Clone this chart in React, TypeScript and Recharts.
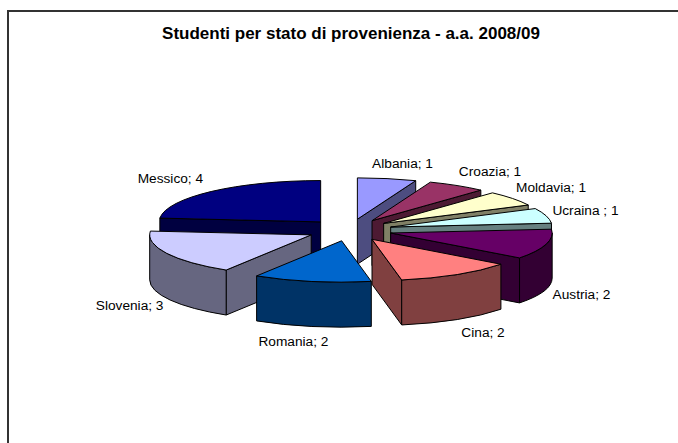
import { PieChart, Pie } from "recharts";

const categories = ["Albania", "Croazia", "Moldavia", "Ucraina ", "Austria", "Cina", "Romania", "Slovenia", "Messico"];
const students = [1, 1, 1, 1, 2, 2, 2, 3, 4];
const sliceColors = ["#9999FF", "#993366", "#FFFFCC", "#CCFFFF", "#660066", "#FF8080", "#0066CC", "#CCCCFF", "#000080"];

// back to front, the order Excel paints a 3D pie in
const paintOrder = ["Albania", "Messico", "Croazia", "Moldavia", "Ucraina ", "Austria", "Slovenia", "Cina", "Romania"];

// label offset from the slice's outer edge
const labelNudge: Record<string, [number, number]> = {
  Albania: [15.5, -15],
  Croazia: [33, -14],
  Moldavia: [38.5, -11],
  "Ucraina ": [39.5, -5],
  Austria: [35.5, 50],
  Cina: [26, 58],
  Romania: [-18.5, 60],
  Slovenia: [-37, 52],
  Messico: [-41.5, -13],
};

const tableData = categories.map((name, i) => ({ name, value: students[i], fill: sliceColors[i] }));

const RADIUS = 161.5;
const TILT = 0.256; // vertical squash of the pie
const DEPTH = 45;
const EXPLODE = 0.265;
const FONT = "'Liberation Sans', Arial, sans-serif";

const darken = (hex: string) => {
  const n = parseInt(hex.slice(1), 16);
  const half = (v: number) => Math.round(v / 2).toString(16).padStart(2, "0");
  return `#${half((n >> 16) & 255)}${half((n >> 8) & 255)}${half(n & 255)}`;
};

// theta is clockwise from 12 o'clock, in degrees
const rim = (cx: number, cy: number, r: number, theta: number) => {
  const t = (theta * Math.PI) / 180;
  return { x: cx + r * Math.sin(t), y: cy - r * TILT * Math.cos(t) };
};

const apexOf = (cx: number, cy: number, r: number, mid: number) => rim(cx, cy, r * EXPLODE, mid);

function Slice3D(props: any) {
  const { cx, cy, outerRadius: r, startAngle, endAngle, fill } = props;
  const a = 90 - startAngle;
  const b = 90 - endAngle;
  const o = apexOf(cx, cy, r, (a + b) / 2);
  const ry = r * TILT;
  const p = rim(o.x, o.y, r, a);
  const q = rim(o.x, o.y, r, b);
  const wall = darken(fill);
  const line = { stroke: "#000", strokeWidth: 1, strokeLinejoin: "round" as const };

  const radialWall = (pt: { x: number; y: number }) => (
    <path
      d={`M${o.x},${o.y} L${pt.x},${pt.y} L${pt.x},${pt.y + DEPTH} L${o.x},${o.y + DEPTH} Z`}
      fill={wall}
      {...line}
    />
  );

  const w0 = Math.max(a, 90);
  const w1 = Math.min(b, 270);
  let curved = null;
  if (w1 > w0) {
    const s = rim(o.x, o.y, r, w0);
    const e = rim(o.x, o.y, r, w1);
    curved = (
      <path
        d={`M${s.x},${s.y} A${r},${ry} 0 0 1 ${e.x},${e.y} L${e.x},${e.y + DEPTH} A${r},${ry} 0 0 0 ${s.x},${s.y + DEPTH} Z`}
        fill={wall}
        {...line}
      />
    );
  }

  return (
    <g>
      {b <= 180 && radialWall(q)}
      {a >= 180 && radialWall(p)}
      {curved}
      <path
        d={`M${o.x},${o.y} L${p.x},${p.y} A${r},${ry} 0 ${b - a > 180 ? 1 : 0} 1 ${q.x},${q.y} Z`}
        fill={fill}
        {...line}
      />
    </g>
  );
}

function sliceLabel(only: string) {
  return (props: any) => {
    const { cx, cy, outerRadius: r, midAngle, name, value } = props;
    if (name !== only) return null;
    const mid = 90 - midAngle;
    const o = apexOf(cx, cy, r, mid);
    const edge = rim(o.x, o.y, r, mid);
    const [dx, dy] = labelNudge[name];
    return (
      <text x={edge.x + dx} y={edge.y + dy} textAnchor="middle" dominantBaseline="central" fontSize={13.7} fontFamily={FONT} fill="#000">
        {`${name}; ${value}`}
      </text>
    );
  };
}

export default function App() {
  return (
    <div style={{ position: "absolute", left: 0, top: 0, width: 678, height: 443, overflow: "hidden", background: "#fff" }}>
      <div style={{ position: "absolute", left: 7, top: 10, width: 800, height: 600, border: "2px solid #333" }} />
      <div
        style={{
          position: "absolute",
          left: 0,
          top: 24,
          width: 702,
          textAlign: "center",
          fontFamily: FONT,
          fontWeight: "bold",
          fontSize: 17,
          color: "#000",
        }}
      >
        Studenti per stato di provenienza - a.a. 2008/09
      </div>
      <div style={{ position: "absolute", left: 0, top: 0 }}>
        <PieChart width={678} height={443} margin={{ top: 0, right: 0, bottom: 0, left: 0 }}>
          {paintOrder.map((only) => (
            <Pie
              key={only}
              data={tableData}
              dataKey="value"
              nameKey="name"
              cx={349.5}
              cy={230}
              innerRadius={0}
              outerRadius={RADIUS}
              startAngle={90}
              endAngle={-270}
              isAnimationActive={false}
              labelLine={false}
              label={sliceLabel(only)}
              shape={(props: any) => (props.name === only ? <Slice3D {...props} /> : <g />)}
            />
          ))}
        </PieChart>
      </div>
    </div>
  );
}
